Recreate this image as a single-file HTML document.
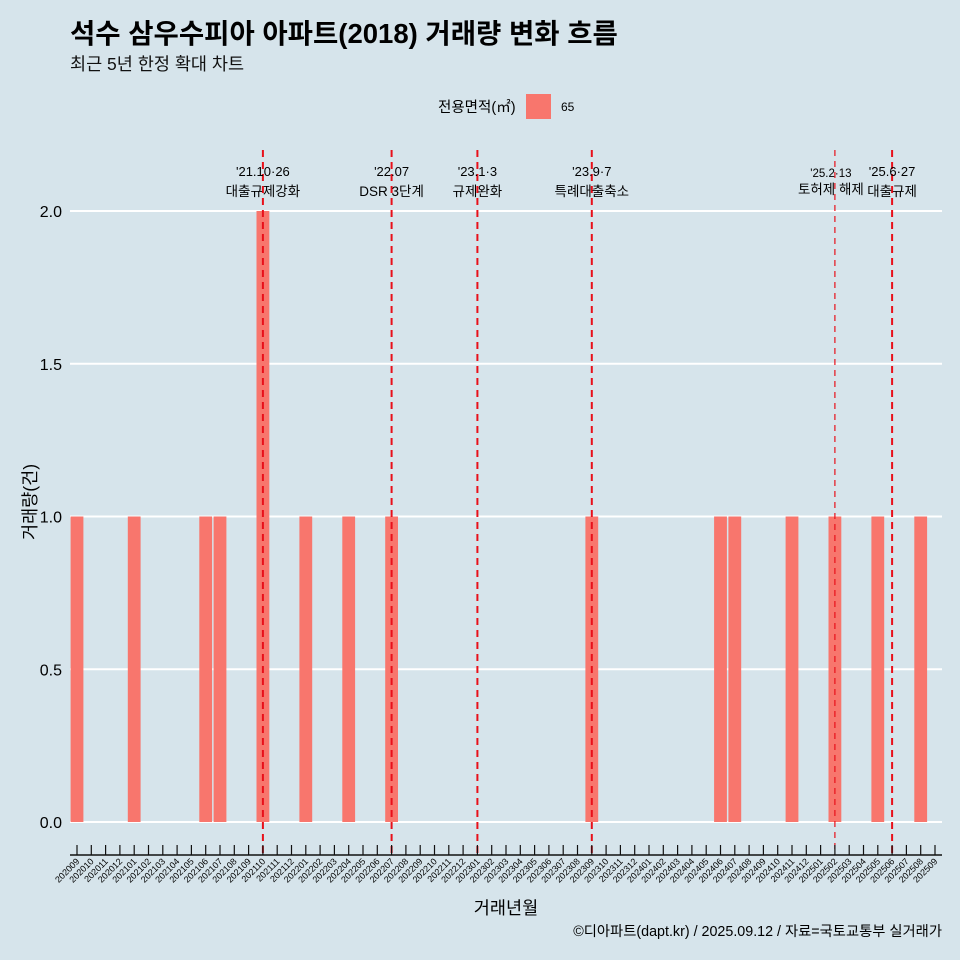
<!DOCTYPE html>
<html><head><meta charset="utf-8"><style>
body{margin:0;background:#d6e4eb;}
svg{display:block;font-family:"Liberation Sans","Noto Sans CJK KR",sans-serif;}
</style></head><body>
<svg id="c" width="960" height="960" viewBox="0 0 960 960">
<rect width="960" height="960" fill="#d6e4eb"/>
<text x="70" y="43" font-size="27.5" font-weight="bold" fill="#000">석수 삼우수피아 아파트(2018) 거래량 변화 흐름</text>
<text x="70" y="70" font-size="17.5" fill="#111">최근 5년 한정 확대 차트</text>
<g>
<text x="438" y="112" font-size="14.5">전용면적(㎡)</text>
<rect x="526" y="94" width="25" height="25" fill="#f8766d"/>
<text x="561" y="111" font-size="12">65</text>
</g>
<g id="grid"></g><g id="bars"></g><g id="vl"></g><g id="xa"></g>
<text x="36" y="502" font-size="17.5" transform="rotate(-90 36 502)" text-anchor="middle">거래량(건)</text>
<text x="506" y="914" font-size="17.5" text-anchor="middle">거래년월</text>
<text x="942" y="936" font-size="14.3" text-anchor="end">©디아파트(dapt.kr) / 2025.09.12 / 자료=국토교통부 실거래가</text>
</svg>
<script>
const months=[];for(let y=2020;y<=2025;y++)for(let m=1;m<=12;m++){const k=y*100+m;if(k>=202009&&k<=202509)months.push(String(k));}
const barMonths=["202009","202101","202106","202107","202110","202201","202204","202207","202309","202406","202407","202411","202502","202505","202508"];
const barValues=[1,1,1,1,2,1,1,1,1,1,1,1,1,1,1];
const yTicks=[0,0.5,1,1.5,2];
const yTickLabels=["0.0","0.5","1.0","1.5","2.0"];
const eventMonths=["202110","202207","202301","202309","202502","202506"];
const eventDates=["'21.10·26","'22.07","'23.1·3","'23.9·7","'25.2·13","'25.6·27"];
const eventNames=["대출규제강화","DSR 3단계","규제완화","특례대출축소","토허제 해제","대출규제"];
const NS="http://www.w3.org/2000/svg";
const x0=77,dx=14.3,yb=822,ys=305.5;
const X=m=>x0+months.indexOf(m)*dx, Y=v=>yb-v*ys;
function mk(p,t,a){const e=document.createElementNS(NS,t);for(const k in a)e.setAttribute(k,a[k]);document.getElementById(p).appendChild(e);return e;}
yTicks.forEach((v,i)=>{
 const l=mk('grid','line',{x1:70,x2:942,y1:Y(v),y2:Y(v),stroke:'#fff','stroke-width':2});
 
 
 const t=mk('grid','text',{x:62,y:Y(v)+6,'font-size':16,'text-anchor':'end'});t.textContent=yTickLabels[i];
 
 
});
barMonths.forEach((m,i)=>{
 const r=mk('bars','rect',{x:X(m)-6.4,y:Y(barValues[i]),width:12.8,height:barValues[i]*ys,fill:'#f8766d'});
 
 
});
eventMonths.forEach((m,i)=>{
 const x=X(m);const thin=m==="202502";
 const l=mk('vl','line',{x1:x,x2:x,y1:150,y2:855,stroke:'#e8101a','stroke-width':thin?1.2:2,'stroke-dasharray':thin?'6 5':'7 5'});
 
 
 const off=m==="202502"?-4:0;
 const t1=mk('vl','text',{x:x+off,y:thin?177:176,'font-size':thin?11.5:13,'text-anchor':'middle'});t1.textContent=eventDates[i];
 
 
 const t2=mk('vl','text',{x:x+off,y:thin?194:196,'font-size':13.5,'text-anchor':'middle'});t2.textContent=eventNames[i];
 
 
});
const ax=mk('xa','line',{x1:70,x2:942,y1:855,y2:855,stroke:'#111','stroke-width':1.5});


months.forEach(m=>{
 const x=X(m);
 const tk=mk('xa','line',{x1:x,x2:x,y1:845,y2:855,stroke:'#111','stroke-width':1.2});
 
 
 const t=mk('xa','text',{x:x+3,y:862,'font-size':9,'text-anchor':'end',transform:`rotate(-45 ${x+3} 862)`});t.textContent=m;
 
 
});
</script>
</body></html>
